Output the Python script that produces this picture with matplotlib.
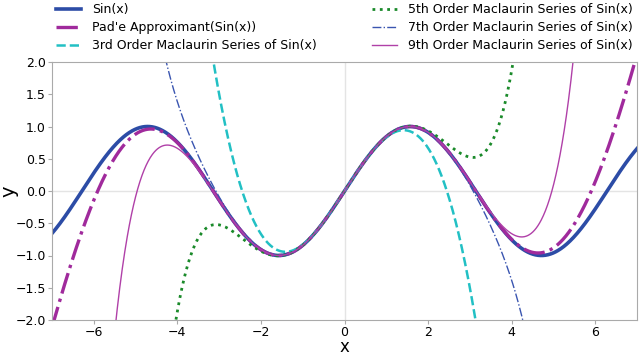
import numpy as np
import matplotlib
matplotlib.use("Agg")
import matplotlib.pyplot as plt

# Maclaurin coefficients of sin(x) for odd powers x^1, x^3, ..., x^9
maclaurinCoeffs = [1.0, -1.0 / 6, 1.0 / 120, -1.0 / 5040, 1.0 / 362880]
orders = [3, 5, 7, 9]
orderNames = ["3rd", "5th", "7th", "9th"]

# Pad'e approximant [5/6] of sin(x), coefficients in ascending powers
padeNum = [0.0, 1.0, 0.0, -0.129957, 0.0, 0.0029036]
padeDen = [1.0, 0.0, 0.036710, 0.0, 0.00068860, 0.0, 0.000007266]

xTicks = [-6, -4, -2, 0, 2, 4, 6]
yTicks = [-2.0, -1.5, -1.0, -0.5, 0.0, 0.5, 1.0, 1.5, 2.0]


def maclaurin(x, order):
    y = np.zeros_like(x)
    for i, a in enumerate(maclaurinCoeffs):
        if 2 * i + 1 > order:
            break
        y += a * x ** (2 * i + 1)
    return y


x = np.linspace(-7, 7, 1400)
padeY = np.polyval(padeNum[::-1], x) / np.polyval(padeDen[::-1], x)

styles = {
    3: dict(color="#22c0c4", linestyle="--", linewidth=1.8),
    5: dict(color="#1a8a2a", linestyle=":", linewidth=2.0),
    7: dict(color="#3a55b0", linestyle="-.", linewidth=1.0),
    9: dict(color="#b040a8", linestyle="-", linewidth=1.0),
}

fig = plt.figure(figsize=(6.4, 3.55), dpi=100)
ax = fig.add_subplot(111)
fig.subplots_adjust(left=52 / 640, right=637 / 640, top=1 - 62 / 355, bottom=1 - 320 / 355)

ax.axhline(0, color="#e4e4e4", linewidth=1.0, zorder=0)
ax.axvline(0, color="#e4e4e4", linewidth=1.0, zorder=0)

ax.plot(x, np.sin(x), color="#2c4ca6", linewidth=2.6, label="Sin(x)")
ax.plot(x, padeY, color="#a02a9c", linestyle="-.", linewidth=2.4, label="Pad'e Approximant(Sin(x))")
for order, name in zip(orders, orderNames):
    ax.plot(x, maclaurin(x, order), label="%s Order Maclaurin Series of Sin(x)" % name, **styles[order])

ax.set_xlim(-7, 7)
ax.set_ylim(-2, 2)
ax.set_xticks(xTicks)
ax.set_yticks(yTicks)
ax.tick_params(labelsize=9, length=3, pad=1.5, color="#aaaaaa")
for sp in ax.spines.values():
    sp.set_color("#aaaaaa")
ax.set_xlabel("x", fontsize=12)
ax.set_ylabel("y", fontsize=14)
ax.xaxis.set_label_coords(0.5, -0.0705)
ax.yaxis.set_label_coords(-0.058, 0.5)

fig.legend(loc="upper left", bbox_to_anchor=(48 / 640, 1 + 4 / 355), ncol=2, frameon=False,
           fontsize=9, handlelength=2.0, handletextpad=0.9, columnspacing=4.4,
           labelspacing=0.4, borderpad=0.1)

fig.savefig("out.png")
